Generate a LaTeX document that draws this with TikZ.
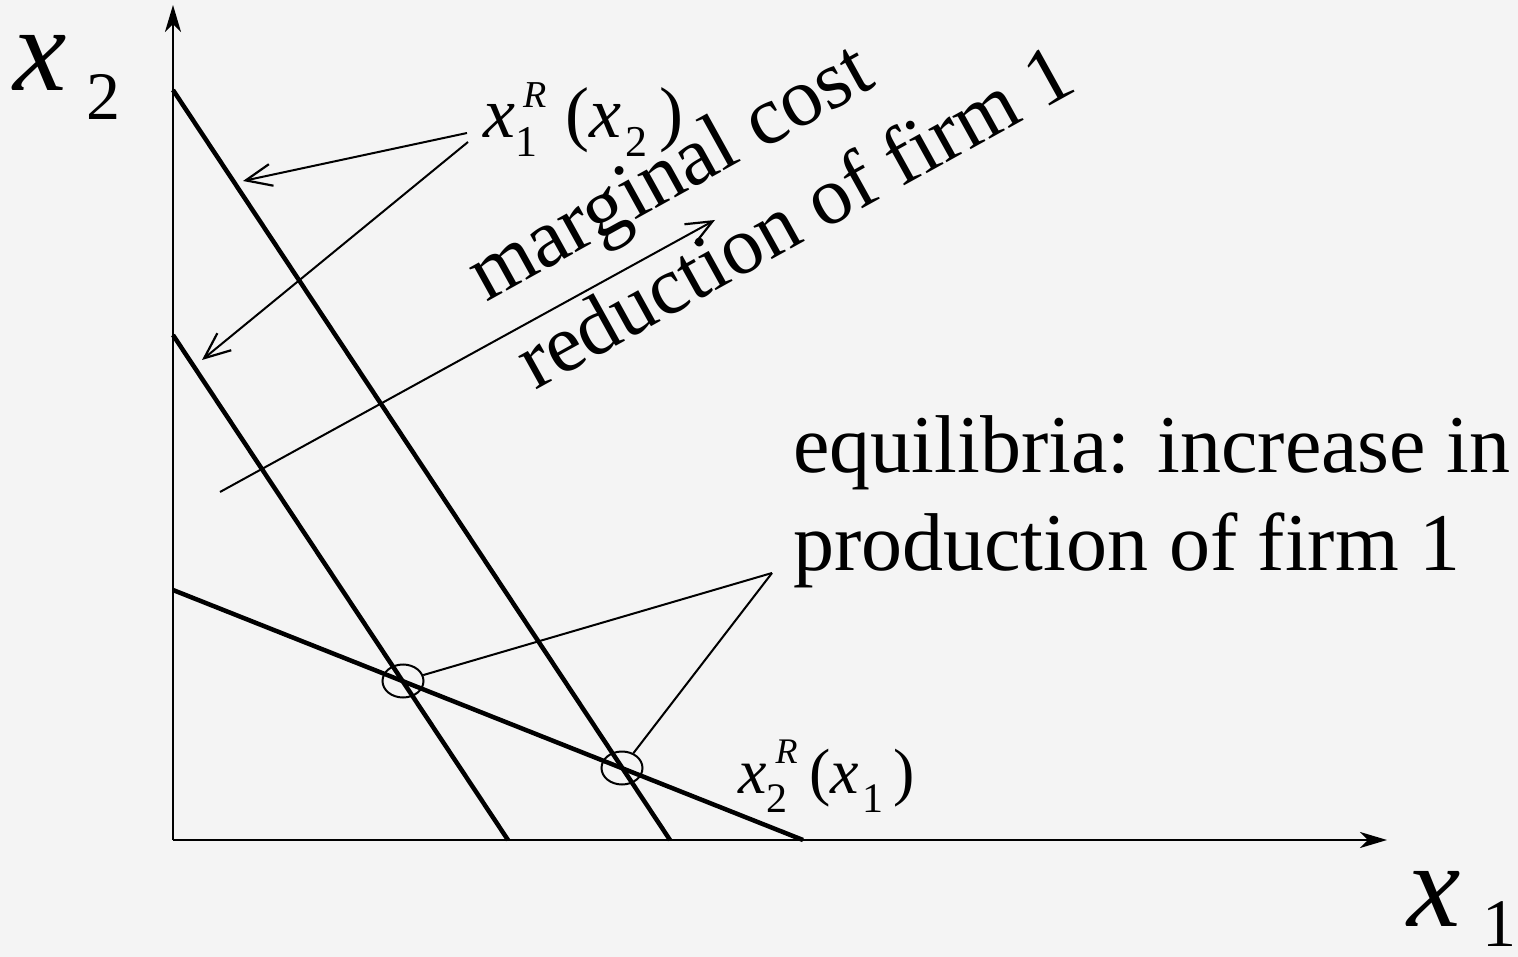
\documentclass[tikz,border=0pt]{standalone}
\usepackage{fontspec}
\setmainfont{Liberation Serif}[ItalicFont=Liberation Serif Italic]
\usetikzlibrary{arrows.meta,shapes.geometric}
\definecolor{bgcol}{HTML}{F4F4F4}
\newcommand{\fsz}[1]{\fontsize{#1}{#1}\selectfont}
\begin{document}
\begin{tikzpicture}[x=1pt,y=-1pt,
  axis/.style={line width=2.5pt,-{Stealth[length=27pt,width=16pt,inset=8pt]}},
  react/.style={line width=4.5pt},
  thinarrow/.style={line width=2pt,-{Straight Barb[length=26pt,width=22pt,line width=2.2pt]}},
  pointer/.style={line width=2pt},
  eqmark/.style={ellipse,draw,line width=2pt,minimum width=41pt,minimum height=33pt,inner sep=0pt},
  txt/.style={inner sep=0pt,anchor=base west}]
\fill[bgcol] (0,0) rectangle (1518,957);
\useasboundingbox (0,0) rectangle (1518,957);
% coordinates
\coordinate (O) at (173,840);
\coordinate (Ytip) at (173,5);
\coordinate (Xtip) at (1387,840);
\coordinate (A1) at (173,90);  \coordinate (B1) at (670,840);
\coordinate (A2) at (173,335); \coordinate (B2) at (508,840);
\coordinate (A3) at (173,590); \coordinate (B3) at (803,840);
% axes
\draw[axis] (O) -- (Ytip);
\draw[axis] (O) -- (Xtip);
% reaction curves
\draw[react] (A1) -- (B1);
\draw[react] (A2) -- (B2);
\draw[react] (A3) -- (B3);
% equilibria marks
\node[eqmark] (e1) at (403,681) {};
\node[eqmark] (e2) at (622,768) {};
% axis labels
\node[txt] (lx2) at (13,91) {\fsz{120}\textit{x}\hspace{20pt}\raisebox{-29pt}{\fsz{68}2}};
\node[txt] (lx1) at (1407,926) {\fsz{120}\textit{x}\hspace{22pt}\raisebox{-20pt}{\fsz{68}1}};
% reaction labels
\node[txt] (r1) at (483,138) {\fsz{72}\textit{x}\rlap{\hspace{8pt}\raisebox{30pt}{\fsz{38}\textit{R}}}\raisebox{-19pt}{\fsz{44}1}\hspace{28pt}(\textit{x}\hspace{4pt}\raisebox{-19pt}{\fsz{44}2}\hspace{12pt})};
\node[txt] (r2) at (738,793) {\fsz{64}\textit{x}\rlap{\hspace{9pt}\raisebox{30pt}{\fsz{36}\textit{R}}}\raisebox{-19pt}{\fsz{42}2}\hspace{22pt}(\textit{x}\hspace{3pt}\raisebox{-19pt}{\fsz{42}1}\hspace{10pt})};
% arrows from x1R label
\coordinate (p1) at (467,133);
\coordinate (p2) at (468,142);
\coordinate (t1) at (243,181);
\coordinate (t2) at (202,360);
\draw[thinarrow] (p1) -- (t1);
\draw[thinarrow] (p2) -- (t2);
% marginal cost arrow
\coordinate (m0) at (220,492);
\coordinate (m1) at (715,220);
\draw[thinarrow] (m0) -- (m1);
\node[txt,rotate=29] (mc1) at (486,303) {\fsz{83}marginal cost};
\node[txt,rotate=29] (mc2) at (535,391) {\fsz{82}reduction of firm 1};
% equilibria text
\node[txt] (eq1) at (793,472) {\fsz{82}equilibria: increase in};
\node[txt] (eq2) at (793,570) {\fsz{82}production of firm 1};
\coordinate (v) at (772,573);
\draw[pointer] (v) -- (e1);
\draw[pointer] (v) -- (e2);
\end{tikzpicture}
\end{document}
